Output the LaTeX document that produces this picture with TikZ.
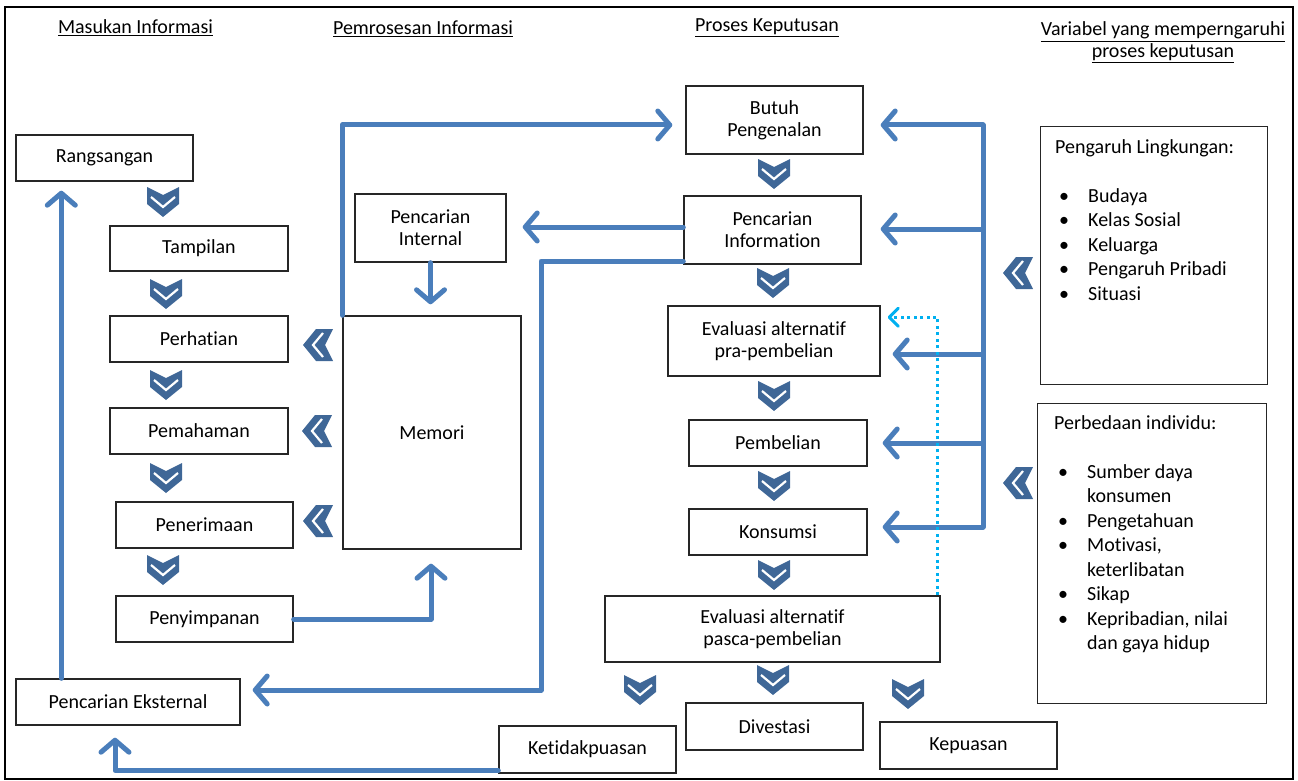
\documentclass[tikz,border=0pt]{standalone}
\usepackage{fontspec}
\setmainfont{Carlito}[Ligatures=NoCommon]
\usetikzlibrary{arrows.meta,calc}
\definecolor{chev}{HTML}{3F6797}
\definecolor{conn}{HTML}{4A7EBB}
\definecolor{dotc}{HTML}{00B0F0}
\definecolor{edge}{HTML}{262626}
\newcommand{\bulit}{\makebox[33pt][l]{\hspace{4pt}•}}
\newcommand{\indit}{\hspace*{33pt}}
\tikzset{
  chevpic/.pic={
    \fill[chev] (-16,-15) -- (0,-7) -- (16,-15) -- (16,2) -- (0,15) -- (-16,2) -- cycle;
    \draw[white,line width=2.2pt] (-12,-5) -- (0,5) -- (12,-5);
  }
}
\begin{document}
\begin{tikzpicture}[x=1pt,y=-1pt,
  every node/.style={font=\fontsize{20}{24.5}\selectfont, inner sep=0pt},
  box/.style={draw=edge, line width=1.4pt, fill=white, align=center, font=\fontsize{20}{22}\selectfont},
  bigbox/.style={draw=edge, line width=1.4pt, anchor=north west},
  listtext/.style={anchor=north west, align=left},
  arr/.style={draw=conn, line width=5pt, line join=round, line cap=round, -{Straight Barb[length=12pt,width=28pt,round]}},
  bar/.style={draw=conn, line width=5pt, line cap=round},
  dotarr/.style={draw=dotc, line width=3pt, dash pattern=on 3pt off 3.5pt, -{Straight Barb[length=9pt,width=18pt,round]}},
  head/.style={anchor=base}
]
\useasboundingbox (0,0) rectangle (1298,781);
\draw[line width=1.5pt] (5,7) rectangle (1293,779);

% headers
\node[head] (h1) at (135.5,34) {\underline{Masukan Informasi}};
\node[head] (h2) at (423,35) {\underline{Pemrosesan Informasi}};
\node[head] (h3) at (767,32) {\underline{Proses Keputusan}};
\node[head] (h4) at (1163,36) {\underline{Variabel yang memperngaruhi}};
\node[head] (h5) at (1163,58) {\underline{proses keputusan}};

% left column
\node[box, minimum width=177pt, minimum height=46pt] (rang) at (104.5,158) {Rangsangan};
\node[box, minimum width=178pt, minimum height=45pt] (tamp) at (199,248.5) {Tampilan};
\node[box, minimum width=178pt, minimum height=46pt] (perh) at (199,339) {Perhatian};
\node[box, minimum width=178pt, minimum height=46pt] (pema) at (199,431) {Pemahaman};
\node[box, minimum width=177pt, minimum height=46pt] (pene) at (204.5,525) {Penerimaan};
\node[box, minimum width=177pt, minimum height=46pt] (peny) at (204.5,619) {Penyimpanan};
\node[box, minimum width=224pt, minimum height=46pt] (eks) at (128,702) {Pencarian Eksternal};

% middle column
\node[box, minimum width=178pt, minimum height=233pt] (memori) at (432,432.5) {Memori};
\node[box, minimum width=151pt, minimum height=68pt] (pint) at (430.5,228) {Pencarian\\Internal};

% decision column
\node[box, minimum width=177pt, minimum height=68pt] (butuh) at (774.5,120) {Butuh\\Pengenalan};
\node[box, minimum width=177pt, minimum height=68pt] (pinf) at (772.5,230) {Pencarian\\Information};
\node[box, minimum width=212pt, minimum height=70pt] (epra) at (774,341) {Evaluasi alternatif\\pra-pembelian};
\node[box, minimum width=178pt, minimum height=46pt] (beli) at (778,443) {Pembelian};
\node[box, minimum width=178pt, minimum height=46pt] (kons) at (778,532) {Konsumsi};
\node[box, minimum width=335pt, minimum height=66pt] (epasca) at (772.5,629) {Evaluasi alternatif\\pasca-pembelian};
\node[box, minimum width=177pt, minimum height=47pt] (ketid) at (587.5,749.5) {Ketidakpuasan};
\node[box, minimum width=177pt, minimum height=47pt] (dives) at (774.5,726.5) {Divestasi};
\node[box, minimum width=177pt, minimum height=47pt] (kepu) at (968.5,745.5) {Kepuasan};

% right boxes
\node[bigbox, minimum width=227pt, minimum height=258pt] (lingk) at (1040,126) {};
\node[listtext] (lingkT) at (1055,139) {Pengaruh Lingkungan:\\[24.5pt]
\bulit Budaya\\ \bulit Kelas Sosial\\ \bulit Keluarga\\ \bulit Pengaruh Pribadi\\ \bulit Situasi};
\node[bigbox, minimum width=229pt, minimum height=300pt] (indiv) at (1037,403) {};
\node[listtext] (indivT) at (1054,415) {Perbedaan individu:\\[24.5pt]
\bulit Sumber daya\\ \indit konsumen\\ \bulit Pengetahuan\\ \bulit Motivasi,\\ \indit keterlibatan\\ \bulit Sikap\\ \bulit Kepribadian, nilai\\ \indit dan gaya hidup};

% chevrons down
\pic at (163,202) {chevpic};
\pic at (166,294) {chevpic};
\pic at (166,385) {chevpic};
\pic at (166,478) {chevpic};
\pic at (163,570) {chevpic};
\pic at (774,174) {chevpic};
\pic at (773,283) {chevpic};
\pic at (774,396) {chevpic};
\pic at (774,486) {chevpic};
\pic at (774,575) {chevpic};
\pic at (640,690) {chevpic};
\pic at (773,680) {chevpic};
\pic at (908,694) {chevpic};
% chevrons left
\pic[rotate=-90] at (318,345) {chevpic};
\pic[rotate=-90] at (317,431) {chevpic};
\pic[rotate=-90] at (318,521) {chevpic};
\pic[rotate=-90] at (1018,273) {chevpic};
\pic[rotate=-90] at (1018,483) {chevpic};

% connectors
\draw[arr, shorten >=13pt] (memori.north west) |- ($(butuh.west)+(0,5)$);
\coordinate (pi1) at ($(pinf.west)+(0,-3)$);
\draw[arr, shorten >=16pt] (pi1) -- (pi1 -| pint.east);
\coordinate (k1) at (541,261);
\coordinate (k2) at (541,690);
\draw[arr, shorten >=12pt] (k1 -| pinf.west) -- (k1) -- (k2) -- (k2 -| eks.east);
\draw[arr, shorten >=11pt] (pint.south) -- (pint.south |- memori.north);
\draw[arr, shorten >=14pt] (peny.east) -| ($(memori.south)+(-1,0)$);
\coordinate (k3) at ($(ketid.south west)+(0,-3)$);
\draw[arr, shorten >=12pt] (k3) -| ($(eks.south)+(-13,0)$);
\coordinate (k4) at ($(eks.north west)+(46,0)$);
\draw[arr, shorten >=9pt] (k4) -- (k4 |- rang.south);

\coordinate (b1) at (983,125);
\coordinate (b2) at (983,229);
\coordinate (b3) at (983,354);
\coordinate (b4) at (983,443);
\coordinate (b5) at (983,527);
\draw[bar] (b1) -- (b5);
\draw[arr, shorten >=17pt] (b1) -- (b1 -| butuh.east);
\draw[arr, shorten >=19pt] (b2) -- (b2 -| pinf.east);
\draw[arr, shorten >=12pt] (b3) -- (b3 -| epra.east);
\draw[arr, shorten >=15pt] (b4) -- (b4 -| beli.east);
\draw[arr, shorten >=15pt] (b5) -- (b5 -| kons.east);

\coordinate (d1) at ($(epasca.north east)+(-3,0)$);
\draw[dotarr, shorten >=7pt] (d1) |- ($(epra.north east)+(0,12)$);
\end{tikzpicture}
\end{document}
